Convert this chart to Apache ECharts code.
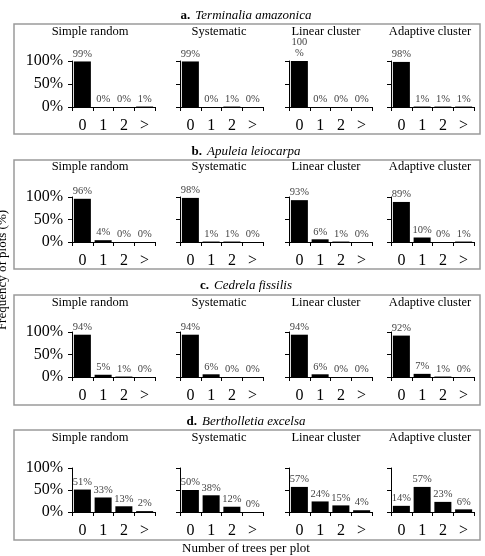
<!DOCTYPE html>
<html lang="en">
<head>
<meta charset="UTF-8">
<title>Frequency of plots</title>
<script src="https://cdn.jsdelivr.net/npm/echarts@6/dist/echarts.min.js"></script>
<style>
  html, body { margin: 0; padding: 0; background: #fff; }
  #fig { width: 485px; height: 556px; }
</style>
</head>
<body>
<div id="fig"></div>
<script>
// categories
const treeCats = ['0', '1', '2', '>'];
const methods = ['Simple random', 'Systematic', 'Linear cluster', 'Adaptive cluster'];
const panelLetters = ['a.', 'b.', 'c.', 'd.'];
const speciesNames = ['Terminalia amazonica', 'Apuleia leiocarpa', 'Cedrela fissilis', 'Bertholletia excelsa'];

// % of plots, one row per sampling method
const terminalia = [[99, 0, 0, 1], [99, 0, 1, 0], [100, 0, 0, 0], [98, 1, 1, 1]];
const apuleia = [[96, 4, 0, 0], [98, 1, 1, 0], [93, 6, 1, 0], [89, 10, 0, 1]];
const cedrela = [[94, 5, 1, 0], [94, 6, 0, 0], [94, 6, 0, 0], [92, 7, 1, 0]];
const bertholletia = [[51, 33, 13, 2], [50, 38, 12, 0], [57, 24, 15, 4], [14, 57, 23, 6]];
const yTicks = [0, 50, 100];

const allData = [terminalia, apuleia, cedrela, bertholletia];

// layout of the panels (pixels)
const colLeft = [72, 180, 289, 391];
const colTitleX = [90, 219, 326, 430];
const plotW = 83;
const rows = [
    {top: 61, zero: 107, boxTop: 24, boxBot: 134, title: 15, sub: 32},
    {top: 197, zero: 242, boxTop: 160, boxBot: 269, title: 151, sub: 167},
    {top: 332, zero: 377, boxTop: 295, boxBot: 405, title: 285, sub: 303},
    {top: 468, zero: 512, boxTop: 430, boxBot: 540, title: 421, sub: 438}
];
const serif = '"Liberation Serif", "DejaVu Serif", serif';

let grids = [], xAxes = [], yAxes = [], series = [], graphics = [], titles = [];

for (let r = 0; r < 4; r++) {
    let rw = rows[r];
    // panel box
    graphics.push({
        type: 'rect',
        shape: {x: 14, y: rw.boxTop, width: 466, height: rw.boxBot - rw.boxTop},
        style: {fill: 'none', stroke: '#9a9a9a', lineWidth: 1.5},
        silent: true
    });
    titles.push({
        text: '{b|' + panelLetters[r] + '} {i|' + speciesNames[r] + '}',
        left: 246, top: rw.title - 8, textAlign: 'center',
        padding: 0,
        textStyle: {
            fontWeight: 'normal',
            rich: {
                b: {fontFamily: serif, fontWeight: 'bold', fontSize: 13, color: '#000'},
                i: {fontFamily: serif, fontWeight: 'normal', fontStyle: 'italic', fontSize: 13, color: '#000'}
            }
        }
    });
    for (let c = 0; c < 4; c++) {
        let idx = r * 4 + c;
        titles.push({
            text: methods[c],
            left: colTitleX[c], top: rw.sub - 7, textAlign: 'center',
            padding: 0,
            textStyle: {fontFamily: serif, fontWeight: 'normal', fontSize: 12.5, color: '#000'}
        });
        grids.push({
            left: colLeft[c], width: plotW,
            top: rw.top, height: rw.zero - rw.top
        });
        xAxes.push({
            type: 'category', gridIndex: idx, data: treeCats,
            axisLine: {lineStyle: {color: '#000', width: 1}},
            axisTick: {show: true, length: 4, lineStyle: {color: '#000'}},
            axisLabel: {fontFamily: serif, fontSize: 16, color: '#000', margin: 11}
        });
        yAxes.push({
            type: 'value', gridIndex: idx, min: yTicks[0], max: yTicks[2], interval: 50,
            axisLine: {show: true, lineStyle: {color: '#000', width: 1}},
            axisTick: {show: true, length: 4, lineStyle: {color: '#000'}},
            splitLine: {show: false},
            axisLabel: {
                show: c === 0, fontFamily: serif, fontSize: 16, color: '#000', margin: 9,
                formatter: '{value}%'
            }
        });
        series.push({
            type: 'bar', xAxisIndex: idx, yAxisIndex: idx,
            data: allData[r][c],
            barCategoryGap: '18%',
            itemStyle: {color: '#000'},
            silent: true,
            animation: false,
            label: {
                show: true, position: 'top', distance: 2,
                fontFamily: serif, fontSize: 10.5, color: '#444', lineHeight: 11,
                formatter: (p) => p.value >= 100 ? '100\n%' : p.value + '%'
            }
        });
    }
}

// common axis names
graphics.push({
    type: 'text', x: 246, y: 549,
    style: {text: 'Number of trees per plot', font: '13px ' + serif, fill: '#000',
        textAlign: 'center', textVerticalAlign: 'middle'}
});
graphics.push({
    type: 'text', x: 3, y: 270, rotation: Math.PI / 2,
    style: {text: 'Frequency of plots (%)', font: '13px ' + serif, fill: '#000',
        textAlign: 'center', textVerticalAlign: 'middle'}
});

let fig = echarts.init(document.getElementById('fig'), null, {renderer: 'canvas'});
fig.setOption({
    backgroundColor: '#fff',
    animation: false,
    title: titles,
    grid: grids,
    xAxis: xAxes,
    yAxis: yAxes,
    series: series,
    graphic: graphics
});
</script>
</body>
</html>
